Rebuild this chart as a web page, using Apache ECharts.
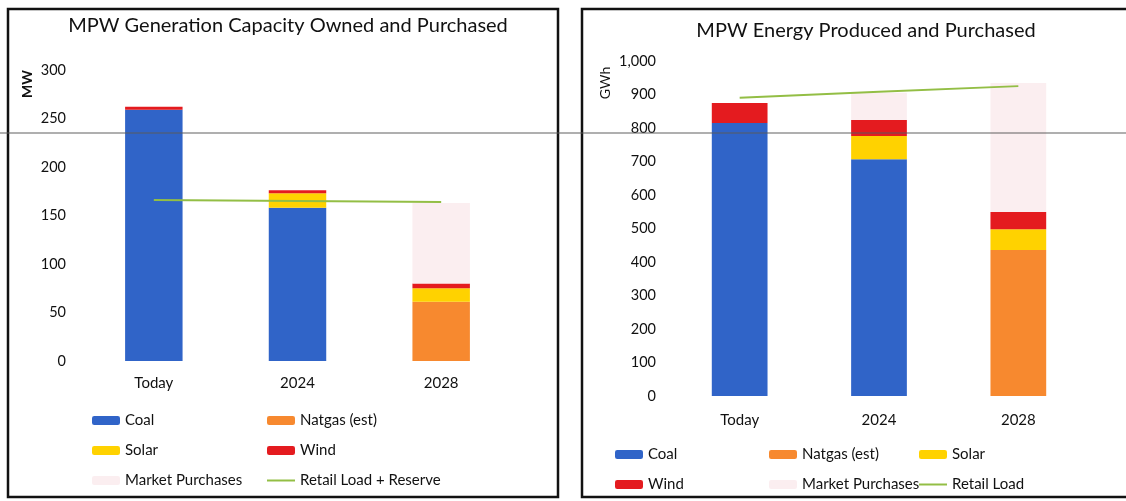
<!DOCTYPE html>
<html>
<head>
<meta charset="utf-8">
<script src="https://cdn.jsdelivr.net/npm/echarts@6/dist/echarts.min.js"></script>
<style>html,body{margin:0;padding:0;background:#fff}#c{width:1126px;height:501px}</style>
</head>
<body>
<div id="c"></div>
<script>
var categories = ['Today', '2024', '2028'];
// Left chart: capacity (MW)
var capCoal   = [259, 158, 0];
var capNatgas = [0, 0, 61];
var capSolar  = [0, 15, 14];
var capWind   = [3, 3, 5];
var capMarket = [0, 0, 83];
var capLoad   = [166, 165, 164];
// Right chart: energy (GWh)
var enCoal   = [815, 707, 0];
var enNatgas = [0, 0, 436];
var enSolar  = [0, 69, 62];
var enWind   = [60, 48, 51];
var enMarket = [0, 81, 385];
var enLoad   = [890, 908, 925];

var FONT = 'Lato';
var TXT = '#111';
var C = {coal:'#3064C8', natgas:'#F7892F', solar:'#FFD200', wind:'#E41B1F', market:'#FBEEF0', line:'#93BE45'};

function bar(name, data, color, xi, stack){
  return {name:name, type:'bar', stack:stack, xAxisIndex:xi, yAxisIndex:xi, data:data,
    barWidth:'40%', itemStyle:{color:color}, emphasis:{disabled:true}};
}
function line(name, data, xi){
  return {name:name, type:'line', xAxisIndex:xi, yAxisIndex:xi, data:data, symbol:'none',
    lineStyle:{color:C.line, width:2}, itemStyle:{color:C.line}, z:5, emphasis:{disabled:true}};
}
function leg(name, x, yc, isLine){
  var l = {data:[isLine ? {name:name, icon:'rect', itemStyle:{color:C.line}} : name],
    left:x, top:yc-9, padding:0, itemWidth:28, itemHeight:isLine?2:9,
    selectedMode:false, textStyle:{fontFamily:FONT, fontSize:15, color:TXT}};
  return l;
}

var option = {
  animation:false,
  title:[
    {text:'MPW Generation Capacity Owned and Purchased', left:283, top:11, textAlign:'center',
      textStyle:{fontFamily:FONT, fontSize:20, fontWeight:'normal', color:TXT}},
    {text:'MPW Energy Produced and Purchased', left:861, top:16, textAlign:'center',
      textStyle:{fontFamily:FONT, fontSize:20, fontWeight:'normal', color:TXT}}
  ],
  grid:[
    {left:82, top:70, width:431, height:291},
    {left:670, top:61, width:418, height:335}
  ],
  xAxis:[
    {type:'category', gridIndex:0, data:categories, axisLine:{show:false}, axisTick:{show:false},
      axisLabel:{fontFamily:FONT, fontSize:15, color:TXT, margin:15}},
    {type:'category', gridIndex:1, data:categories, axisLine:{show:false}, axisTick:{show:false},
      axisLabel:{fontFamily:FONT, fontSize:15, color:TXT, margin:17}}
  ],
  yAxis:[
    {type:'value', gridIndex:0, min:0, max:300, interval:50, splitLine:{show:false},
      axisLabel:{fontFamily:FONT, fontSize:14.5, color:TXT, margin:16}},
    {type:'value', gridIndex:1, min:0, max:1000, interval:100, splitLine:{show:false},
      axisLabel:{fontFamily:FONT, fontSize:14.5, color:TXT, margin:14,
        formatter:function(v){return v>=1000? (Math.floor(v/1000)+','+String(v%1000).padStart(3,'0')) : String(v);}}}
  ],
  legend:[
    leg('Coal', 92, 422), leg('Natgas (est)', 267, 422),
    leg('Solar', 92, 452), leg('Wind', 267, 452),
    leg('Market Purchases', 92, 482), leg('Retail Load + Reserve', 267, 482, true),
    leg('Coal', 615, 456), leg('Natgas (est)', 769, 456), leg('Solar', 919, 456),
    leg('Wind', 615, 486), leg('Market Purchases', 769, 486), leg('Retail Load', 919, 486, true)
  ],
  series:[
    bar('Coal', capCoal, C.coal, 0, 'cap'),
    bar('Natgas (est)', capNatgas, C.natgas, 0, 'cap'),
    bar('Solar', capSolar, C.solar, 0, 'cap'),
    bar('Wind', capWind, C.wind, 0, 'cap'),
    bar('Market Purchases', capMarket, C.market, 0, 'cap'),
    line('Retail Load + Reserve', capLoad, 0),
    bar('Coal', enCoal, C.coal, 1, 'en'),
    bar('Natgas (est)', enNatgas, C.natgas, 1, 'en'),
    bar('Solar', enSolar, C.solar, 1, 'en'),
    bar('Wind', enWind, C.wind, 1, 'en'),
    bar('Market Purchases', enMarket, C.market, 1, 'en'),
    line('Retail Load', enLoad, 1)
  ],
  graphic:[
    {type:'text', x:27, y:84, rotation:Math.PI/2, style:{text:'MW', fontFamily:FONT, fontSize:14, fontWeight:'bold', fill:TXT, align:'center', verticalAlign:'middle'}},
    {type:'text', x:605, y:83, rotation:Math.PI/2, style:{text:'GWh', fontFamily:FONT, fontSize:14, fill:TXT, align:'center', verticalAlign:'middle'}},
    {type:'rect', shape:{x:8, y:9, width:550, height:488}, style:{fill:'none', stroke:'#111', lineWidth:2.5}, z:100},
    {type:'rect', shape:{x:582, y:9, width:600, height:488}, style:{fill:'none', stroke:'#111', lineWidth:2.5}, z:100},
    {type:'line', shape:{x1:0, y1:133, x2:1126, y2:133}, style:{stroke:'rgba(90,90,90,0.65)', lineWidth:1.5}, z:100}
  ]
};
var chart = echarts.init(document.getElementById('c'));
chart.setOption(option);
</script>
</body>
</html>
